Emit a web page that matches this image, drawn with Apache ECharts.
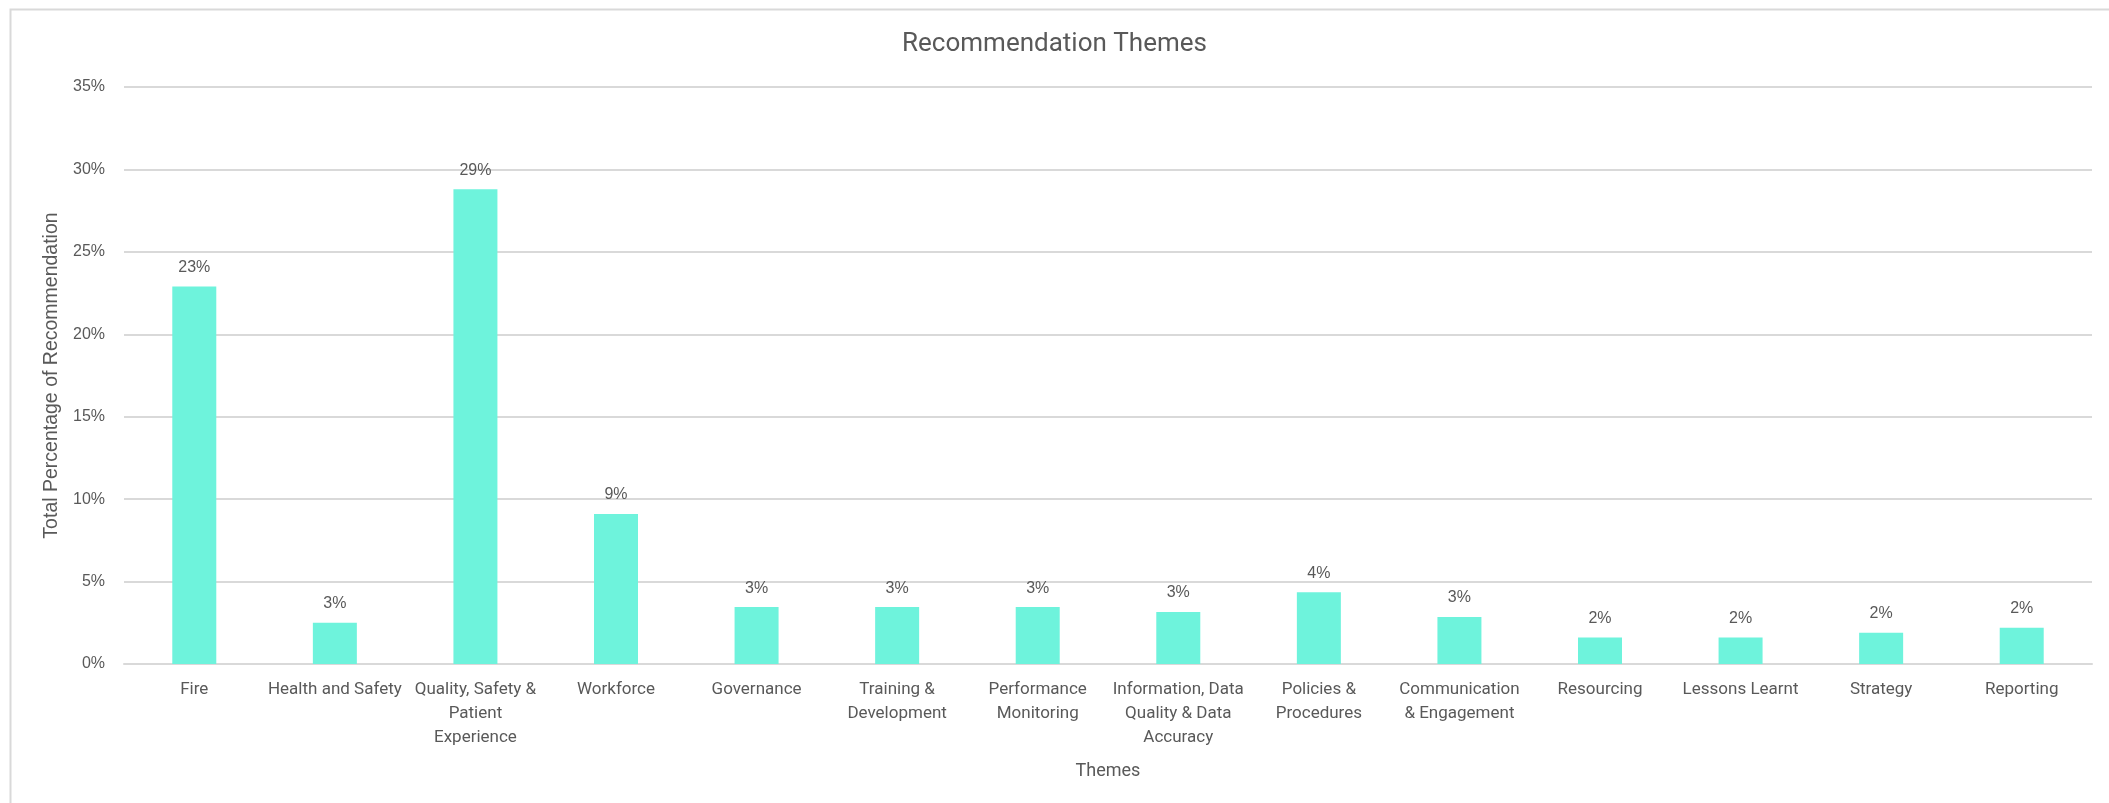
<!DOCTYPE html>
<html>
<head>
<meta charset="utf-8">
<title>Recommendation Themes</title>
<script src="https://cdn.jsdelivr.net/npm/echarts@6/dist/echarts.min.js"></script>
<style>
  html, body { margin: 0; padding: 0; background: #ffffff; }
  #chart { width: 2109px; height: 803px; }
</style>
</head>
<body>
<div id="chart"></div>
<script>
// Theme names (line breaks follow the wrapped axis labels)
const themes = [
  'Fire',
  'Health and Safety',
  'Quality, Safety &\nPatient\nExperience',
  'Workforce',
  'Governance',
  'Training &\nDevelopment',
  'Performance\nMonitoring',
  'Information, Data\nQuality & Data\nAccuracy',
  'Policies &\nProcedures',
  'Communication\n& Engagement',
  'Resourcing',
  'Lessons Learnt',
  'Strategy',
  'Reporting'
];

// Share of all recommendations per theme, in percent
const sharePct = [22.9, 2.5, 28.8, 9.1, 3.45, 3.45, 3.45, 3.15, 4.35, 2.85, 1.6, 1.6, 1.9, 2.2];

// Value axis ticks
const yTicks = [0, 5, 10, 15, 20, 25, 30, 35];

const textGrey = '#595959';
const labelFont = "'Liberation Sans', Arial, sans-serif";

const chart = echarts.init(document.getElementById('chart'), null, { renderer: 'canvas' });

chart.setOption({
  backgroundColor: '#ffffff',
  animation: false,
  graphic: [{
    type: 'rect',
    left: 8, top: 7,
    shape: { width: 2120, height: 820 },
    style: { fill: 'none', stroke: '#d9d9d9', lineWidth: 2 },
    silent: true
  }],
  title: {
    text: 'Recommendation Themes',
    left: 'center',
    top: 26,
    textStyle: { color: textGrey, fontSize: 26, fontWeight: 'normal', fontFamily: "Roboto, 'Liberation Sans', sans-serif" }
  },
  grid: { left: 124, right: 17, top: 87, bottom: 139, containLabel: false },
  xAxis: {
    type: 'category',
    data: themes,
    name: 'Themes',
    nameLocation: 'middle',
    nameGap: 98,
    nameTextStyle: { color: textGrey, fontSize: 18, fontFamily: "Roboto, sans-serif" },
    axisLine: { show: true, lineStyle: { color: '#d9d9d9', width: 2 } },
    axisTick: { show: false },
    axisLabel: {
      interval: 0,
      color: textGrey,
      fontSize: 17,
      lineHeight: 24,
      margin: 14,
      fontFamily: "Roboto, sans-serif",
      align: 'center'
    }
  },
  yAxis: {
    type: 'value',
    min: yTicks[0],
    max: yTicks[yTicks.length - 1],
    interval: yTicks[1] - yTicks[0],
    name: 'Total Percentage of Recommendation',
    nameLocation: 'middle',
    nameGap: 62,
    nameRotate: 90,
    nameTextStyle: { color: textGrey, fontSize: 19.5, fontFamily: labelFont },
    axisLine: { show: false },
    axisTick: { show: false },
    axisLabel: {
      color: textGrey,
      fontSize: 16,
      margin: 19,
      fontFamily: labelFont,
      formatter: v => v + '%'
    },
    splitLine: { lineStyle: { color: '#d9d9d9', width: 2 } }
  },
  series: [{
    type: 'bar',
    data: sharePct,
    barWidth: 44,
    itemStyle: { color: '#6ef3dc' },
    label: {
      show: true,
      position: 'top',
      distance: 11,
      color: textGrey,
      fontSize: 16,
      fontFamily: labelFont,
      formatter: p => Math.round(p.value) + '%'
    }
  }]
});
</script>
</body>
</html>
